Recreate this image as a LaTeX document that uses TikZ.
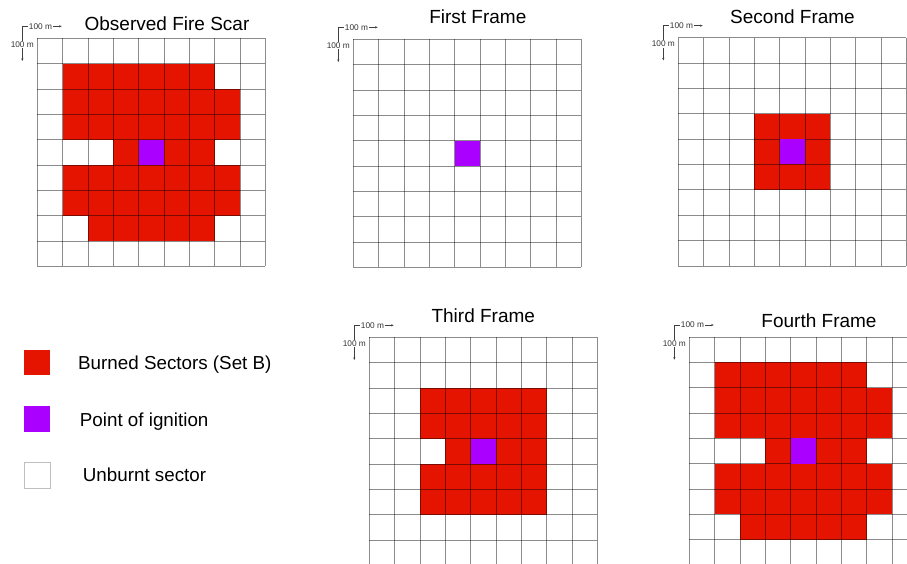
\documentclass[tikz,border=0pt]{standalone}
\usepackage{fontspec}
\setmainfont{Liberation Sans}
\usetikzlibrary{arrows.meta,calc}

\definecolor{burnred}{RGB}{228,20,0}
\definecolor{ignite}{RGB}{170,0,255}

\newcommand{\cellsz}{25.35}
% burned runs given as row/first col/last col
\newcommand{\burnruns}[2]{%
  \begin{scope}[shift={(#1)}]
    \foreach \r/\a/\b in {#2}
      \fill[burned] (\a*\cellsz,\r*\cellsz) rectangle ({(\b+1)*\cellsz},{(\r+1)*\cellsz});
  \end{scope}}
% 9x9 sector grid, ignition point and scale marks
\newcommand{\sectorgrid}[1]{%
  \begin{scope}[shift={(#1)}]
    \foreach \i in {0,...,9} {
      \draw[cellline] (\i*\cellsz,0) -- (\i*\cellsz,9*\cellsz);
      \draw[cellline] (0,\i*\cellsz) -- (9*\cellsz,\i*\cellsz);
    }
    \fill[ignition] (4*\cellsz,4*\cellsz) rectangle (5*\cellsz,5*\cellsz);
    \draw[scaleline] (-15,-12) coordinate (sc) -- ++(39.4,0) node[scaletxt,pos=0.46] {100 m};
    \draw[scaleline] (sc) -- ++(0,34.7) node[scaletxt,pos=0.53] {100 m};
  \end{scope}}

\begin{document}
\begin{tikzpicture}[x=1pt,y=-1pt,
  burned/.style={fill=burnred},
  ignition/.style={fill=ignite},
  cellline/.style={draw=black,draw opacity=0.45,line width=0.7pt},
  scaleline/.style={draw=black!75,line width=0.45pt,-{Stealth[length=2.6pt,width=2.2pt]}},
  scaletxt/.style={fill=white,inner sep=0.8pt,font=\fontsize{8.3}{9}\selectfont,text=black!80},
  title/.style={anchor=base,inner sep=0pt,font=\fontsize{19}{22}\selectfont},
  legbox/.style={minimum size=25.5pt,inner sep=0pt},
  legtxt/.style={anchor=base west,inner sep=0pt,font=\fontsize{18.8}{22}\selectfont}]
  \clip (0,0) rectangle (907,564);
  \fill[white] (0,0) rectangle (907,564);

  % grid corners
  \coordinate (scar) at (37.3,38.3);
  \coordinate (first) at (353.3,39.3);
  \coordinate (second) at (678.3,37.7);
  \coordinate (third) at (369.3,337.3);
  \coordinate (fourth) at (689.3,337);

  % burned sectors
  \burnruns{scar}{1/1/6,2/1/7,3/1/7,4/3/3,4/5/6,5/1/7,6/1/7,7/2/6}
  \burnruns{second}{3/3/5,4/3/3,4/5/5,5/3/5}
  \burnruns{third}{2/2/6,3/2/6,4/3/3,4/5/6,5/2/6,6/2/6}
  \burnruns{fourth}{1/1/6,2/1/7,3/1/7,4/3/3,4/5/6,5/1/7,6/1/7,7/2/6}

  \foreach \g in {scar,first,second,third,fourth} {\sectorgrid{\g}}

  % titles
  \node[title] (tscar) at (167,30.3) {Observed Fire Scar};
  \node[title] (tfirst) at (477.8,24) {First Frame};
  \node[title] (tsecond) at (792.5,24) {Second Frame};
  \node[title] (tthird) at (483.3,322.7) {Third Frame};
  \node[title] (tfourth) at (819,327.3) {Fourth Frame};

  % legend
  \node[legbox,fill=burnred] (lburn) at (37.2,362.5) {};
  \node[legbox,fill=ignite] (lignite) at (37.2,419.2) {};
  \node[legbox,draw=black!25,fill=white] (lunburnt) at (37.2,475.3) {};
  \node[legtxt] (tburn) at (78,369.3) {Burned Sectors (Set B)};
  \node[legtxt] (tignite) at (79.7,426.7) {Point of ignition};
  \node[legtxt] (tunburnt) at (82.7,481.7) {Unburnt sector};
\end{tikzpicture}
\end{document}
